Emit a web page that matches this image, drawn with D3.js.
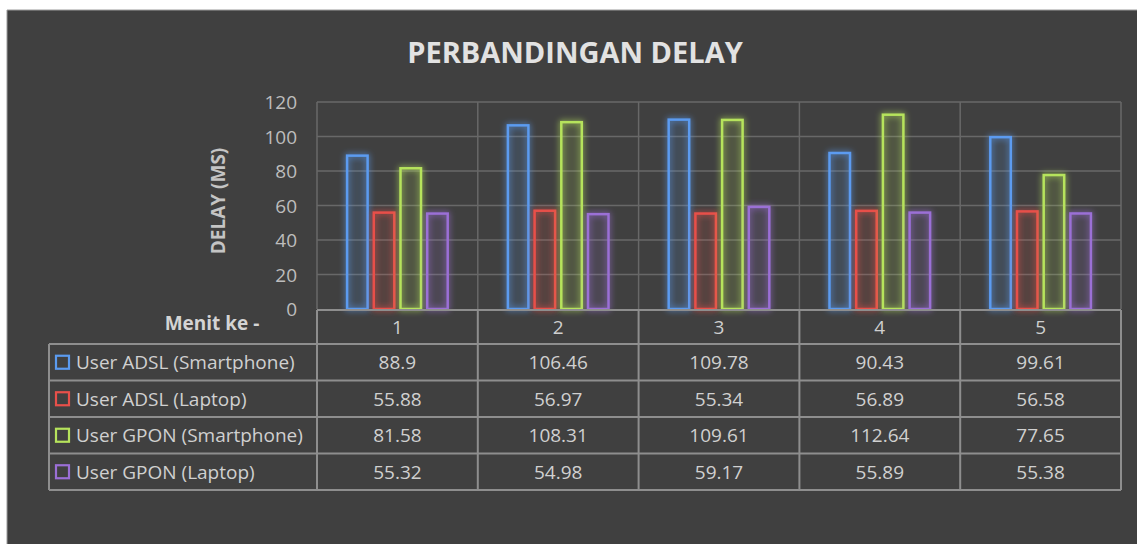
<!DOCTYPE html>
<html>
<head>
<meta charset="utf-8">
<script src="https://cdn.jsdelivr.net/npm/d3@7"></script>
<style>
  html, body { margin: 0; padding: 0; background: #ffffff; }
  svg { display: block; }
  text { font-family: "Open Sans", "Liberation Sans", sans-serif; }
</style>
</head>
<body>
<svg id="chart" width="1137" height="546"></svg>
<script>
// ---- data ----
const title = "PERBANDINGAN DELAY";
const yAxisTitle = "DELAY (MS)";
const tableHeader = "Menit ke -";
const categories = ["1", "2", "3", "4", "5"];
const seriesNames = ["User ADSL (Smartphone)", "User ADSL (Laptop)", "User GPON (Smartphone)", "User GPON (Laptop)"];
const adslSmartphone = [88.9, 106.46, 109.78, 90.43, 99.61];
const adslLaptop = [55.88, 56.97, 55.34, 56.89, 56.58];
const gponSmartphone = [81.58, 108.31, 109.61, 112.64, 77.65];
const gponLaptop = [55.32, 54.98, 59.17, 55.89, 55.38];
const yTicks = [0, 20, 40, 60, 80, 100, 120];
const seriesColors = ["#5b9bf0", "#e8504a", "#b6e35c", "#9b6fd6"];

const seriesValues = [adslSmartphone, adslLaptop, gponSmartphone, gponLaptop];

// ---- layout ----
const svg = d3.select("#chart");
const W = 1137, H = 546;
const plot = { left: 317, right: 1121, top: 102, bottom: 309 };
const tableLeft = 49;
const headerBottom = 344;
const rowH = 36.5;

svg.append("rect").attr("x", 0).attr("y", 0).attr("width", W).attr("height", H).attr("fill", "#ffffff");
svg.append("rect").attr("x", 7).attr("y", 10).attr("width", W - 7).attr("height", H - 12)
  .attr("fill", "#404040");
svg.append("line").attr("x1", 7).attr("x2", W).attr("y1", 10).attr("y2", 10).attr("stroke", "#9a9a9a").attr("stroke-width", 1);
svg.append("line").attr("x1", 7).attr("x2", 7).attr("y1", 10).attr("y2", H - 2).attr("stroke", "#9a9a9a").attr("stroke-width", 1);

const defs = svg.append("defs");
const glow = defs.append("filter").attr("id", "glow").attr("x", "-50%").attr("y", "-20%").attr("width", "200%").attr("height", "140%");
glow.append("feGaussianBlur").attr("in", "SourceGraphic").attr("stdDeviation", 3).attr("result", "blur");
const merge = glow.append("feMerge");
merge.append("feMergeNode").attr("in", "blur");
merge.append("feMergeNode").attr("in", "SourceGraphic");

const x = d3.scaleBand().domain(categories).range([plot.left, plot.right]).padding(0);
const xs = d3.scaleBand().domain(seriesNames).range([0, x.bandwidth()]).paddingInner(0.232).paddingOuter(1.127);
const y = d3.scaleLinear().domain([0, 120]).range([plot.bottom, plot.top]);

// title
svg.append("text").attr("x", 575).attr("y", 63).attr("text-anchor", "middle")
  .attr("font-size", 29).attr("font-weight", "bold").attr("fill", "#e2e2e2").text(title);

// gridlines
svg.append("g").selectAll("line").data(yTicks.filter(d => d > 0)).join("line")
  .attr("x1", plot.left).attr("x2", plot.right)
  .attr("y1", d => y(d)).attr("y2", d => y(d))
  .attr("stroke", "#686868").attr("stroke-width", 1.5);

// vertical category separators (plot area + table)
const vEdges = categories.map(c => x(c)).concat([plot.right]);
svg.append("g").selectAll("line").data(vEdges).join("line")
  .attr("x1", d => d).attr("x2", d => d)
  .attr("y1", plot.top).attr("y2", plot.bottom)
  .attr("stroke", "#686868").attr("stroke-width", 1.5);

// y axis
const yAxis = d3.axisLeft(y).tickValues(yTicks).tickSize(0).tickPadding(0);
const yg = svg.append("g").attr("transform", `translate(297,0)`).call(yAxis);
yg.select(".domain").remove();
yg.selectAll("text").attr("font-size", 19).attr("fill", "#bdbdbd")
  .attr("font-family", "'Open Sans', sans-serif").attr("dy", "0.36em");

svg.append("text").attr("transform", `translate(225,201) rotate(-90)`)
  .attr("text-anchor", "middle").attr("font-size", 19).attr("font-weight", "bold")
  .attr("fill", "#c4c4c4").text(yAxisTitle);

// bars
const barData = [];
seriesNames.forEach((s, si) => categories.forEach((c, ci) => barData.push({ s, si, c, v: seriesValues[si][ci] })));
svg.append("g").selectAll("rect").data(barData).join("rect")
  .attr("x", d => x(d.c) + xs(d.s))
  .attr("y", d => y(d.v))
  .attr("width", xs.bandwidth())
  .attr("height", d => y(0) - y(d.v))
  .attr("fill", d => seriesColors[d.si]).attr("fill-opacity", 0.07)
  .attr("stroke", d => seriesColors[d.si]).attr("stroke-width", 2.5)
  .attr("filter", "url(#glow)");

// ---- data table ----
const tg = svg.append("g");
const tableBottom = headerBottom + rowH * seriesNames.length;
// horizontal lines
const hLines = [
  { x1: plot.left, x2: plot.right, y: plot.bottom + 1 },
  { x1: tableLeft, x2: plot.right, y: headerBottom }
];
seriesNames.forEach((s, i) => hLines.push({ x1: tableLeft, x2: plot.right, y: headerBottom + rowH * (i + 1) }));
tg.selectAll("line.h").data(hLines).join("line").attr("class", "h")
  .attr("x1", d => d.x1).attr("x2", d => d.x2).attr("y1", d => d.y).attr("y2", d => d.y)
  .attr("stroke", "#8e8e8e").attr("stroke-width", 2);
// vertical lines
const vLines = vEdges.map(v => ({ x: v, y1: plot.bottom + 1, y2: tableBottom }));
vLines.push({ x: tableLeft, y1: headerBottom, y2: tableBottom });
tg.selectAll("line.v").data(vLines).join("line").attr("class", "v")
  .attr("x1", d => d.x).attr("x2", d => d.x).attr("y1", d => d.y1).attr("y2", d => d.y2)
  .attr("stroke", "#8e8e8e").attr("stroke-width", 2);

// header labels
tg.append("text").attr("x", 212).attr("y", 330).attr("text-anchor", "middle")
  .attr("font-size", 19).attr("font-weight", "bold").attr("fill", "#d4d4d4").text(tableHeader);
tg.selectAll("text.cat").data(categories).join("text").attr("class", "cat")
  .attr("x", d => x(d) + x.bandwidth() / 2).attr("y", (plot.bottom + headerBottom) / 2 + 1)
  .attr("dy", "0.36em").attr("text-anchor", "middle").attr("font-size", 19).attr("fill", "#cfcfcf").text(d => d);

// legend rows
seriesNames.forEach((s, si) => {
  const cy = headerBottom + rowH * si + rowH / 2;
  tg.append("rect").attr("x", 56).attr("y", cy - 6.5).attr("width", 13).attr("height", 13)
    .attr("fill", "none").attr("stroke", seriesColors[si]).attr("stroke-width", 2.2);
  tg.append("text").attr("x", 76).attr("y", cy).attr("dy", "0.36em")
    .attr("font-size", 19).attr("fill", "#d0d0d0").text(s);
  tg.selectAll(null).data(categories).join("text")
    .attr("x", (c) => x(c) + x.bandwidth() / 2).attr("y", cy).attr("dy", "0.36em")
    .attr("text-anchor", "middle").attr("font-size", 19).attr("fill", "#d0d0d0")
    .text((c, ci) => String(seriesValues[si][ci]));
});
</script>
</body>
</html>
